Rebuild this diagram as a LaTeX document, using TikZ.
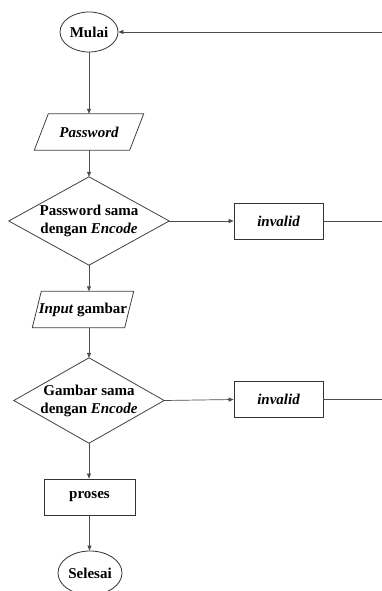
\documentclass[tikz,border=0pt]{standalone}
\usepackage{fontspec}
\setmainfont{Liberation Serif}
\usetikzlibrary{arrows.meta,calc,shapes.geometric}
\begin{document}
\begin{tikzpicture}[x=1pt,y=-1pt,
  every node/.style={font=\fontsize{15}{18}\selectfont\bfseries, inner sep=0pt, align=center},
  term/.style={ellipse, draw=black!80, line width=0.8pt, minimum width=#1, minimum height=40pt},
  term/.default=58pt,
  box/.style={rectangle, draw=black!80, line width=0.8pt, minimum width=#1, minimum height=36pt},
  frame/.style={rectangle, minimum width=#1, minimum height=36pt},
  dframe/.style n args={2}{rectangle, minimum width=#1, minimum height=#2},
  shapeline/.style={draw=black!75, line width=0.8pt},
  arr/.style={draw=black!70, line width=0.7pt, -{Triangle[length=5pt,width=4pt]}},
  ln/.style={draw=black!70, line width=0.7pt}]
\useasboundingbox (0,0) rectangle (382,591);

\node[term] (mulai) at (89,32) {Mulai};

\node[frame=95pt] (pw) at (89,132) {\itshape Password};
\draw[shapeline] ($(pw.north west)+(7,0)$) -- ($(pw.north east)+(7,0)$) -- ($(pw.south east)+(-7,0)$) -- ($(pw.south west)+(-7,0)$) -- cycle;

\node[dframe={160pt}{88pt}] (d1) at (89,221) {Password sama\\dengan \textit{Encode}};
\draw[shapeline] (d1.north) -- (d1.east) -- (d1.south) -- (d1.west) -- cycle;

\node[box=89pt] (inv1) at (278.5,221) {\itshape invalid};

\node[frame=92pt] (in) at (83,309.5) {\textit{Input} gambar};
\draw[shapeline] ($(in.north west)+(4.5,0)$) -- ($(in.north east)+(4.5,0)$) -- ($(in.south east)+(-4.5,0)$) -- ($(in.south west)+(-4.5,0)$) -- cycle;

\node[dframe={150pt}{85pt}] (d2) at (89,400.5) {Gambar sama\\dengan \textit{Encode}};
\draw[shapeline] (d2.north) -- (d2.east) -- (d2.south) -- (d2.west) -- cycle;

\node[box=89pt] (inv2) at (278.5,399.5) {\itshape invalid};

\node[box=91pt] (proses) at (89.5,497) {proses};

\node[term=64pt, minimum height=44pt] (selesai) at (90,573) {Selesai};

\coordinate (r0) at (382,32);
\coordinate (r1) at (382,221);
\coordinate (r2) at (382,399.5);

\draw[arr] (mulai.south) -- (mulai.south |- pw.north);
\draw[arr] (pw.south) -- (d1.north);
\draw[arr] (d1.south) -- (d1.south |- in.north);
\draw[arr] (d1.south |- in.south) -- (d2.north);
\draw[arr] (d2.south) -- (d2.south |- proses.north);
\draw[arr] (proses.south) -- (proses.south |- selesai.north);

\draw[arr] (d1.east) -- (inv1.west);
\draw[arr] (d2.east) -- (inv2.west);
\draw[ln] (inv1.east) -- (r1);
\draw[ln] (inv2.east) -- (r2) -- (r0);
\draw[arr] (r0) -- (mulai.east);
\end{tikzpicture}
\end{document}
